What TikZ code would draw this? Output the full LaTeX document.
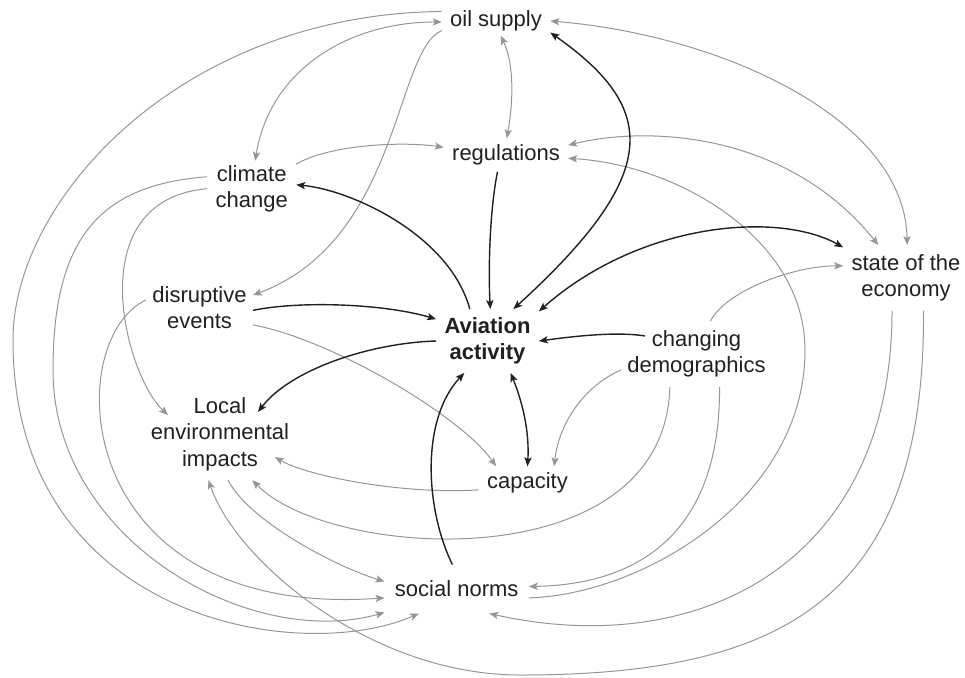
\documentclass[tikz,border=0pt]{standalone}
\usepackage{fontspec}
\setmainfont{Liberation Sans}
\usetikzlibrary{arrows.meta, calc}

\definecolor{inkdark}{RGB}{35,31,32}
\definecolor{inkgray}{RGB}{150,150,150}

\tikzset{
  factor/.style={font=\fontsize{11}{13.25}\selectfont, text=inkdark, align=center, inner xsep=4pt, inner ysep=2pt},
  tip/.style={Stealth[length=4.5pt, width=3.6pt, inset=1pt]},
  grayarrow/.style={draw=inkgray, line width=0.5pt, -{Stealth[length=4.5pt, width=3.6pt, inset=1pt]}},
  grayboth/.style={draw=inkgray, line width=0.5pt, {Stealth[length=4.5pt, width=3.6pt, inset=1pt]}-{Stealth[length=4.5pt, width=3.6pt, inset=1pt]}},
  blackarrow/.style={draw=inkdark, line width=0.7pt, -{Stealth[length=4.5pt, width=3.6pt, inset=1pt]}},
  blackboth/.style={draw=inkdark, line width=0.7pt, {Stealth[length=4.5pt, width=3.6pt, inset=1pt]}-{Stealth[length=4.5pt, width=3.6pt, inset=1pt]}}
}

\begin{document}
\begin{tikzpicture}[x=0.5pt, y=-0.5pt] % one unit per pixel, y pointing down
  \useasboundingbox (0,0) rectangle (965,677);

  % Define the factors
  \node[factor] (oil) at (496,21) {oil supply};
  \node[factor, inner ysep=3pt] (reg) at (506,155) {regulations};
  \node[factor] (clim) at (251.7,188.7) {climate\\change};
  \node[factor, inner xsep=3pt] (dis) at (199.5,307.5) {disruptive\\events};
  \node[factor, inner ysep=4pt, font=\fontsize{11}{13.25}\selectfont\bfseries] (avi) at (487.5,341) {Aviation\\activity};
  \node[factor, inner ysep=4.5pt] (econ) at (906,278) {state of the\\economy};
  \node[factor, inner xsep=3pt, inner ysep=4.5pt] (demo) at (696.5,354) {changing\\demographics};
  \node[factor, inner xsep=2pt, inner ysep=4.5pt] (local) at (220,434) {Local\\environmental\\impacts};
  \node[factor, inner ysep=3pt] (cap) at (527.5,483) {capacity};
  \node[factor, inner xsep=5pt, inner ysep=8pt] (norms) at (456.7,589) {social norms};

  % Bends for the long outer loops
  \coordinate (bendA) at (13,340);
  \coordinate (bendB) at (805,350);
  \coordinate (bendC) at (53,370);
  \coordinate (bendD) at (520,675);

  % Secondary influences (grey)
  \draw[grayarrow] (oil.170) .. controls +(-262,3) and +(0,-140) .. (bendA)
                   .. controls +(0,280) and +(-120,52) .. (norms.213);
  \draw[grayboth] (oil.181) .. controls +(-92,0) and +(15,-92) .. (clim.83);
  \draw[grayarrow] (oil.190) .. controls +(-47,20) and +(147,-55) .. (dis.13);
  \draw[grayboth] (oil.-72) .. controls +(14,30) and +(6,-35) .. (reg.87);
  \draw[grayboth] (oil.east) .. controls +(170,14) and +(-2,-127) .. (econ.88);
  \draw[grayarrow] (clim.29) .. controls +(35,-20) and +(-40,-6) .. (reg.173);
  \draw[grayboth] (reg.9) .. controls +(82,-20) and +(-90,-112) .. (econ.130);
  \draw[grayarrow] (norms.-7) .. controls +(112,-3) and +(0,150) .. (bendB)
                   .. controls +(0,-110) and +(112,7) .. (reg.-3);
  \draw[grayarrow] (clim.165) .. controls +(-109,8) and +(0,-130) .. (bendC)
                   .. controls +(0,170) and +(-135,38) .. (norms.198);
  \draw[grayarrow] (clim.180) .. controls +(-129,11) and +(-43,-40) .. ($(local)+(-52,-19)$);
  \draw[grayarrow] (dis.-18) .. controls +(80,15) and +(-35,-50) .. (cap.152);
  \draw[grayarrow] (dis.172) .. controls +(-86,40) and +(-315,22) .. (norms.187);
  \draw[grayarrow] (demo.67) .. controls +(15,-30) and +(-50,0) .. (econ.169);
  \draw[grayarrow] (econ.-113) .. controls +(0,251) and +(211,47) .. (norms.-37);
  \draw[grayarrow] (econ.-62) .. controls +(2,291) and +(260,0) .. (bendD)
                   .. controls +(-150,0) and +(27,80) .. (local.-104);
  \draw[grayarrow] (demo.192) .. controls +(-35,15) and +(5,-45) .. (cap.32);
  \draw[grayarrow] (demo.-129) .. controls +(-5,194) and +(78,80) .. (local.-55);
  \draw[grayarrow] (demo.-55) .. controls +(1,144) and +(112,-2) .. (norms.2);
  \draw[grayarrow] (cap.188) .. controls +(-80,5) and +(30,18) .. ($(local)+(55,23)$);
  \draw[grayarrow] (local.-80) .. controls +(20,40) and +(-50,-15) .. (norms.174);

  % Links to and from aviation activity (black)
  \draw[blackarrow] (reg.-117) .. controls +(-8,40) and +(-2,-40) .. (avi.85);
  \draw[blackboth] (oil.-12) .. controls +(110,77) and +(147,-134) .. (avi.51);
  \draw[blackboth] (econ.154) .. controls +(-64,-36) and +(102,-90) .. (avi.30);
  \draw[blackarrow] ($(demo)+(-51.5,-18)$) .. controls +(-30,-5) and +(30,-4) .. (avi.east);
  \draw[blackboth] (avi.-54) .. controls +(12,30) and +(2,-35) .. (cap.north);
  \draw[blackarrow] (norms.100) .. controls +(-27,-55) and +(-44,47) .. (avi.-126);
  \draw[blackarrow] (avi.west) .. controls +(-67,2) and +(32,-42) .. ($(local)+(38,-22)$);
  \draw[blackarrow] (avi.119) .. controls +(-20,-74) and +(55,5) .. (clim.5);
  \draw[blackarrow] (dis.-3) .. controls +(50,-10) and +(-50,-15) .. (avi.157);
\end{tikzpicture}
\end{document}
